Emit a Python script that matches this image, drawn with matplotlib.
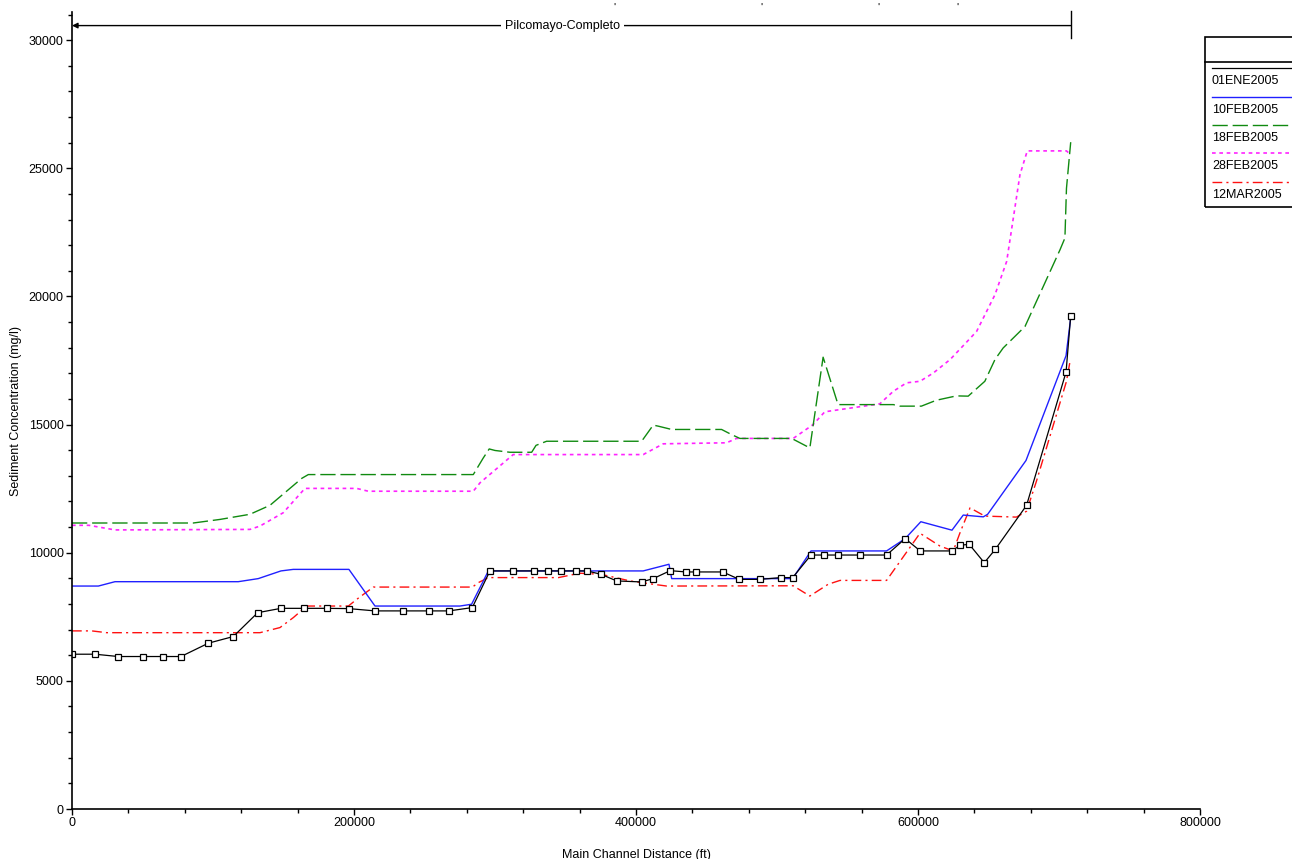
import numpy as np
import matplotlib
matplotlib.use("Agg")
import matplotlib.pyplot as plt
from matplotlib.lines import Line2D
from matplotlib.patches import Rectangle
from matplotlib.ticker import MultipleLocator

plt.rcParams['font.family'] = ['Liberation Sans', 'DejaVu Sans']

# 01ENE2005 (black, square markers)
x_ene = [0, 16300, 32800, 50100, 64300, 77300, 96700, 114400, 131700, 148200,
         164800, 180600, 196200, 214900, 234900, 253300, 267400, 283900, 296400,
         312500, 327900, 337300, 346800, 357400, 365200, 375100, 386300, 404000,
         412200, 424300, 435500, 442600, 461500, 473300, 487900, 502600, 511100,
         524100, 533300, 543000, 558800, 577700, 590900, 601600, 624100, 629800,
         636300, 647000, 654800, 677000, 705000, 708300]
y_ene = [6040, 6040, 5950, 5950, 5950, 5950, 6470, 6730, 7660, 7830,
         7830, 7830, 7820, 7730, 7730, 7730, 7730, 7860, 9290,
         9290, 9290, 9290, 9290, 9290, 9290, 9160, 8900, 8860,
         8990, 9300, 9250, 9250, 9250, 8960, 8960, 9030, 9030,
         9910, 9910, 9910, 9910, 9910, 10550, 10070, 10070, 10290,
         10330, 9610, 10130, 11850, 17050, 19250]

# 10FEB2005 (blue)
x_10feb = [0, 18700, 30500, 117900, 132100, 148200, 156900, 196400, 214900, 275100,
           283400, 295300, 405100, 423400, 425300, 511100, 524100, 577700, 590900,
           602000, 624100, 632100, 646300, 649400, 676600, 705000, 708300]
y_10feb = [8700, 8700, 8870, 8870, 8990, 9290, 9350, 9350, 7920, 7920,
           7990, 9290, 9290, 9550, 8990, 8990, 10070, 10070, 10550,
           11210, 10880, 11470, 11400, 11500, 13600, 17690, 19160]

# 18FEB2005 (green)
x_18feb = [0, 86000, 105000, 126200, 140400, 162900, 167600, 284600, 291700, 295900,
           300000, 310600, 326000, 329100, 336600, 404000, 412200, 415700, 425300,
           460700, 467800, 473700, 510400, 523300, 532700, 543300, 582500, 587000,
           602400, 613000, 627200, 635600, 647400, 654600, 660400, 675900, 700700,
           704200, 705300, 708300]
y_18feb = [11160, 11160, 11300, 11500, 11850, 12900, 13050, 13050, 13700, 14050,
           13990, 13920, 13920, 14190, 14350, 14350, 14980, 14940, 14810,
           14810, 14610, 14460, 14460, 14090, 17630, 15780, 15780, 15720,
           15720, 15950, 16120, 16110, 16690, 17540, 17990, 18830, 21820,
           22280, 24220, 26020]

# 28FEB2005 (magenta)
x_28feb = [0, 12000, 30500, 126200, 133300, 149800, 165200, 201900, 210100, 284600,
           289400, 312900, 405100, 419300, 464200, 471300, 511500, 525600, 533900,
           572900, 582500, 591900, 601400, 610800, 622800, 634500, 641600, 654600,
           662900, 672300, 677500, 705300, 708300]
y_28feb = [11070, 11070, 10890, 10910, 11040, 11560, 12510, 12510, 12400, 12400,
           12730, 13830, 13830, 14250, 14290, 14460, 14460, 15000, 15500,
           15810, 16300, 16630, 16690, 17010, 17540, 18220, 18640, 20070,
           21370, 24750, 25680, 25680, 25530]

# 12MAR2005 (red)
x_12mar = [0, 14000, 24600, 133300, 147500, 157000, 166400, 196000, 201900, 213700,
           284000, 288100, 295300, 345000, 360000, 375100, 395700, 412200, 421700,
           511500, 523300, 536300, 544700, 577700, 601400, 615600, 625000, 629800,
           636900, 647400, 669800, 677000, 684000, 698200, 705300, 707600]
y_12mar = [6950, 6950, 6880, 6880, 7080, 7470, 7920, 7920, 8180, 8660,
           8660, 8830, 9030, 9030, 9200, 9160, 8900, 8770, 8700,
           8710, 8310, 8770, 8920, 8920, 10760, 10260, 10070, 10780,
           11750, 11430, 11390, 11620, 12790, 15390, 16690, 17400]

labels = ["01ENE2005", "10FEB2005", "18FEB2005", "28FEB2005", "12MAR2005"]
top_marks = [385000, 489000, 572000, 628000]

W, H = 1292, 859
fig = plt.figure(figsize=(W / 100, H / 100), dpi=100)
ax = fig.add_axes([72 / W, 50 / H, 1128 / W, 797 / H])

styles = [
    dict(color="black", lw=0.9, marker="s", ms=4.5, mfc="white", mec="black", mew=0.9),
    dict(color="#2020ff", lw=1.0),
    dict(color="#108a10", lw=1.0, dashes=(11, 3.5)),
    dict(color="#ff22ff", lw=1.2, dashes=(2.2, 2.2)),
    dict(color="#ff1010", lw=1.0, dashes=(7, 3, 1.5, 3)),
]
series = [(x_12mar, y_12mar, 4), (x_28feb, y_28feb, 3), (x_18feb, y_18feb, 2),
          (x_10feb, y_10feb, 1), (x_ene, y_ene, 0)]
for xs, ys, k in series:
    ax.plot(xs, ys, **styles[k])

ax.set_xlim(0, 800000)
ax.set_ylim(0, 31100)
ax.xaxis.set_major_locator(MultipleLocator(200000))
ax.xaxis.set_minor_locator(MultipleLocator(40000))
ax.yaxis.set_major_locator(MultipleLocator(5000))
ax.yaxis.set_minor_locator(MultipleLocator(1000))
ax.tick_params(which="major", length=4, width=1, labelsize=9, pad=2)
ax.tick_params(which="minor", length=3, width=1)
for s in ["top", "right"]:
    ax.spines[s].set_visible(False)
for s in ["left", "bottom"]:
    ax.spines[s].set_linewidth(1.2)
ax.set_xlabel("Main Channel Distance (ft)", fontsize=9, labelpad=14)
ax.set_ylabel("Sediment Concentration (mg/l)", fontsize=9, labelpad=5)

# reach annotation
yr = 30570
ax.annotate("", xy=(0, yr), xytext=(708300, yr), annotation_clip=False,
            arrowprops=dict(arrowstyle="-|>", color="black", lw=1.0,
                            mutation_scale=8, shrinkA=0, shrinkB=0))
ax.plot([708300, 708300], [30100, 31150], color="black", lw=1.0, clip_on=False)
ax.text(348000, yr, "Pilcomayo-Completo", ha="center", va="center", fontsize=9,
        bbox=dict(facecolor="white", edgecolor="none", pad=3), clip_on=False)
for xm in top_marks:
    ax.text(xm, 31280, "'", fontsize=8, ha="center", va="center", clip_on=False)

# legend box (clipped at figure edge)
def fx(p):
    return p / W

def fy(p):
    return 1 - p / H

fig.add_artist(Rectangle((fx(1205), fy(207)), fx(100), 170 / H, fill=False,
                         edgecolor="black", lw=1.2, transform=fig.transFigure))
fig.add_artist(Line2D([fx(1205), fx(1292)], [fy(62), fy(62)], color="black",
                      lw=1.2, transform=fig.transFigure))
line_y = [68, 97, 125, 153, 182]
for k, lab in enumerate(labels):
    st = {key: v for key, v in styles[k].items() if not key.startswith("m")}
    fig.add_artist(Line2D([fx(1212), fx(1292)], [fy(line_y[k]), fy(line_y[k])],
                          transform=fig.transFigure, **st))
    fig.text(fx(1212), fy(line_y[k] + 13), lab, fontsize=9, va="center", ha="left")

fig.savefig("out.png", dpi=100)
